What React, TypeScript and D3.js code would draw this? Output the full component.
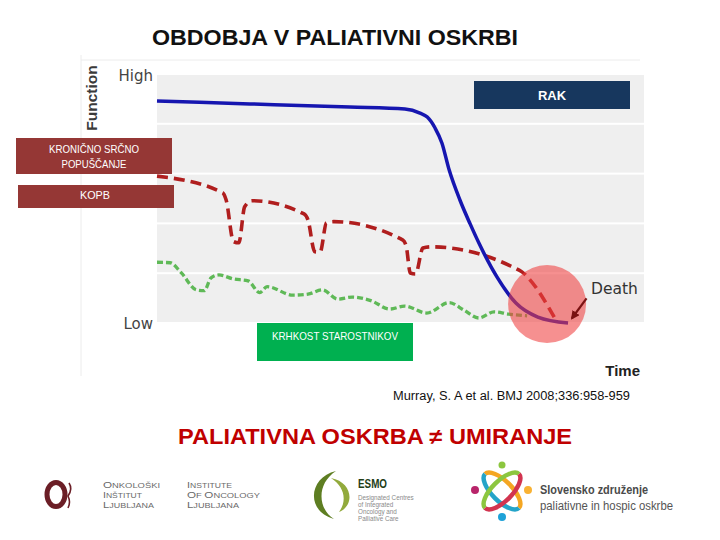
import * as d3 from "d3";

// Murray trajectories (time 0-100, function 0-100)
const bandEdges = [0, 20, 40, 60, 80, 100];
const levelLabels = ["Low", "High"];

const cancerTime = [0, 19.1, 39.6, 50.9, 54.0, 55.5, 57.1, 58.5, 60.0, 62.2, 64.3, 66.1, 69.8, 73.7, 78.2, 84.4];
const cancerFunction = [89.2, 88.0, 86.7, 85.9, 84.3, 82.7, 78.3, 72.3, 61.4, 49.4, 39.8, 32.1, 18.5, 8.0, 2.4, 0];

const organTime = [0, 13.5, 14.2, 15.7, 16.8, 18.0, 19.5, 30.2, 31.0, 32.4, 33.5, 34.8, 36.3, 50.5, 51.2, 52.0, 53.1, 54.6, 56.2, 74.9, 76.0, 82.1];
const organFunction = [59.0, 52.3, 49.4, 32.7, 32.2, 46.7, 49.1, 43.8, 41.4, 28.6, 28.5, 40.2, 40.7, 33.3, 30.6, 20.1, 19.7, 30.1, 30.6, 20.6, 18.6, 0.5];

const frailtyTime = [0, 2.7, 5.0, 8.1, 9.7, 11.1, 12.7, 15.7, 18.7, 21.1, 22.6, 27.9, 31.0, 34.0, 37.1, 40.1, 43.9, 47.8, 50.8, 55.4, 60.0, 63.0, 66.1, 69.2, 72.2, 76.0];
const frailtyFunction = [24.4, 24.2, 20.1, 13.3, 13.0, 18.1, 19.3, 17.7, 16.9, 12.2, 14.6, 11.2, 11.6, 13.3, 9.6, 10.4, 9.0, 5.6, 6.8, 4.0, 8.2, 5.2, 2.0, 4.5, 3.6, 2.9];

const deathPoint = [80.1, 7.6];
const arrowFrom = [88.2, 9.9];
const arrowTo = [85.2, 1.9];

const title = "OBDOBJA V PALIATIVNI OSKRBI";
const citation = "Murray, S. A et al. BMJ 2008;336:958-959";
const message = "PALIATIVNA OSKRBA \u2260 UMIRANJE";

const SANS = "'Liberation Sans', Arial, sans-serif";

const zip = (xs: number[], ys: number[]) => xs.map((v, i) => [v, ys[i]] as [number, number]);

function SmallCaps({ x, y, text, width }: { x: number; y: number; text: string; width: number }) {
  // first letter of each word a bit bigger, like the logo lettering
  const parts: { t: string; big: boolean }[] = [];
  text.split(" ").forEach((w, i) => {
    if (i > 0) parts.push({ t: " ", big: false });
    parts.push({ t: w[0], big: true });
    if (w.length > 1) parts.push({ t: w.slice(1), big: false });
  });
  return (
    <text x={x} y={y} fontFamily={SANS} fill="#6a6a6a" textLength={width} lengthAdjust="spacingAndGlyphs">
      {parts.map((p, i) => (
        <tspan key={i} fontSize={p.big ? 9.5 : 7.6}>{p.t}</tspan>
      ))}
    </text>
  );
}

export default function App() {
  const x = d3.scaleLinear().domain([0, 100]).range([157, 644]);
  const y = d3.scaleLinear().domain([0, 100]).range([323, 74]);

  const line = d3
    .line<[number, number]>()
    .x((d) => x(d[0]))
    .y((d) => y(d[1]))
    .curve(d3.curveMonotoneX);

  const bands = d3.pairs(bandEdges);

  return (
    <svg
      width={720}
      height={540}
      style={{ position: "absolute", left: 0, top: 0, background: "#fff" }}
    >
      <defs>
        <marker id="arrow" viewBox="0 0 10 10" refX="8" refY="5" markerWidth="4" markerHeight="4" orient="auto-start-reverse">
          <path d="M0,0 L10,5 L0,10 z" fill="#7a1212" />
        </marker>
      </defs>

      <text x={335} y={45} textAnchor="middle" fontFamily={SANS} fontWeight="bold" fontSize={22.5} textLength={366} lengthAdjust="spacingAndGlyphs" fill="#111">
        {title}
      </text>

      {/* faint frame of the pasted figure */}
      <line x1={81} x2={640} y1={60} y2={60} stroke="#ececec" />
      <line x1={81} x2={81} y1={55} y2={376} stroke="#ececec" />

      {bands.map(([a, b], i) => (
        <rect key={i} x={x(0)} width={x(100) - x(0)} y={y(b) + 1} height={y(a) - y(b) - 2} fill="#efefef" />
      ))}

      <text transform={`translate(97,${98}) rotate(-90)`} textAnchor="middle" fontFamily={SANS} fontWeight="bold" fontSize={15.5} fill="#3a3a3a">
        Function
      </text>
      <text x={x(0) - 4} y={y(100) + 7} textAnchor="end" fontFamily="'DejaVu Sans', sans-serif" fontSize={15} fill="#444">
        {levelLabels[1]}
      </text>
      <text x={x(0) - 4} y={y(0) + 6} textAnchor="end" fontFamily="'DejaVu Sans', sans-serif" fontSize={15} fill="#444">
        {levelLabels[0]}
      </text>
      <text x={640} y={376} textAnchor="end" fontFamily={SANS} fontWeight="bold" fontSize={15} fill="#222">
        Time
      </text>

      <path d={line(zip(frailtyTime, frailtyFunction)) ?? ""} fill="none" stroke="#5fb957" strokeWidth={3.3} strokeDasharray="6,3" />
      <path d={line(zip(organTime, organFunction)) ?? ""} fill="none" stroke="#b01e1e" strokeWidth={3.6} strokeDasharray="11,6" />
      <path d={line(zip(cancerTime, cancerFunction)) ?? ""} fill="none" stroke="#1616b0" strokeWidth={3.5} />

      <circle cx={x(deathPoint[0])} cy={y(deathPoint[1])} r={39} fill="#f04040" fillOpacity={0.58} />

      <line
        x1={x(arrowFrom[0])}
        y1={y(arrowFrom[1])}
        x2={x(arrowTo[0])}
        y2={y(arrowTo[1])}
        stroke="#7a1212"
        strokeWidth={2.2}
        markerEnd="url(#arrow)"
      />
      <text x={591} y={294} fontFamily="'DejaVu Sans', sans-serif" fontSize={15.5} fill="#333">
        Death
      </text>

      {/* trajectory labels */}
      <rect x={474} y={81} width={156} height={28} fill="#17375e" />
      <text x={552} y={100} textAnchor="middle" fontFamily={SANS} fontWeight="bold" fontSize={13} fill="#fff">
        RAK
      </text>

      <rect x={16} y={138} width={156} height={36} fill="#953735" />
      <text x={94} y={153} textAnchor="middle" fontFamily={SANS} fontSize={10.5} textLength={90} lengthAdjust="spacingAndGlyphs" fill="#fff">
        KRONIČNO SRČNO
      </text>
      <text x={94} y={167.5} textAnchor="middle" fontFamily={SANS} fontSize={10.5} textLength={65} lengthAdjust="spacingAndGlyphs" fill="#fff">
        POPUŠČANJE
      </text>

      <rect x={18} y={185} width={156} height={23} fill="#953735" />
      <text x={95} y={198.5} textAnchor="middle" fontFamily={SANS} fontSize={10.5} textLength={30} lengthAdjust="spacingAndGlyphs" fill="#fff">
        KOPB
      </text>

      <rect x={257} y={323} width={156} height={38} fill="#00b050" />
      <text x={335} y={339.5} textAnchor="middle" fontFamily={SANS} fontSize={10.5} textLength={126} lengthAdjust="spacingAndGlyphs" fill="#fff">
        KRHKOST STAROSTNIKOV
      </text>

      <text x={393} y={400} fontFamily={SANS} fontSize={12} textLength={237} lengthAdjust="spacingAndGlyphs" fill="#111">
        {citation}
      </text>

      <text x={178} y={444} fontFamily={SANS} fontWeight="bold" fontSize={21.5} textLength={394} lengthAdjust="spacingAndGlyphs" fill="#c00000">
        {message}
      </text>

      {/* logos */}
      <g>
        <ellipse cx={56} cy={494.5} rx={9} ry={12} fill="none" stroke="#6b1e26" strokeWidth={5} />
        <path d="M69,483 q4,6 -1,13 q3,6 0,12" fill="none" stroke="#6b1e26" strokeWidth={1.6} />
        <SmallCaps x={103} y={487.5} text="ONKOLOŠKI" width={57} />
        <SmallCaps x={103} y={497.5} text="INŠTITUT" width={39} />
        <SmallCaps x={103} y={508} text="LJUBLJANA" width={51} />
        <SmallCaps x={187} y={487.5} text="INSTITUTE" width={45} />
        <SmallCaps x={187} y={497.5} text="OF ONCOLOGY" width={73} />
        <SmallCaps x={187} y={508} text="LJUBLJANA" width={52} />
      </g>

      <g>
        <path d="M336,471 C309,477 305,511 334,519 C318,509 316,484 336,471 Z" fill="#5e7e22" />
        <path d="M331,478 C353,482 355,506 339,512 C347,501 345,487 331,478 Z" fill="#92aa3c" />
        <text x={358} y={488} fontFamily={SANS} fontWeight="bold" fontSize={12} textLength={29} lengthAdjust="spacingAndGlyphs" fill="#233d17">
          ESMO
        </text>
        {["Designated Centres", "of Integrated", "Oncology and", "Palliative Care"].map((t, i) => (
          <text key={t} x={358} y={500 + i * 7} fontFamily={SANS} fontSize={6.3} fill="#8a8a8a">
            {t}
          </text>
        ))}
      </g>

      <g>
        <g transform="translate(502,491) rotate(45)">
          <path d="M-24,0 A24,10 0 0 1 24,0" fill="none" stroke="#f4a622" strokeWidth={4.5} />
          <path d="M24,0 A24,10 0 0 1 -24,0" fill="none" stroke="#24a4c8" strokeWidth={4.5} />
        </g>
        <g transform="translate(502,491) rotate(-45)">
          <path d="M-24,0 A24,10 0 0 1 24,0" fill="none" stroke="#8cc63f" strokeWidth={4.5} />
          <path d="M24,0 A24,10 0 0 1 -24,0" fill="none" stroke="#d2344f" strokeWidth={4.5} />
        </g>
        <circle cx={502} cy={465} r={3.5} fill="#8cc63f" />
        <circle cx={475} cy={490} r={4} fill="#b8246a" />
        <circle cx={528} cy={490} r={4} fill="#f9b233" />
        <circle cx={502} cy={517} r={4} fill="#1ea2d8" />
        <text x={540} y={494} fontFamily={SANS} fontWeight="bold" fontSize={12.5} textLength={108} lengthAdjust="spacingAndGlyphs" fill="#4a4a4a">
          Slovensko združenje
        </text>
        <text x={540} y={510} fontFamily={SANS} fontSize={12} textLength={133} lengthAdjust="spacingAndGlyphs" fill="#555">
          paliativne in hospic oskrbe
        </text>
      </g>
    </svg>
  );
}
